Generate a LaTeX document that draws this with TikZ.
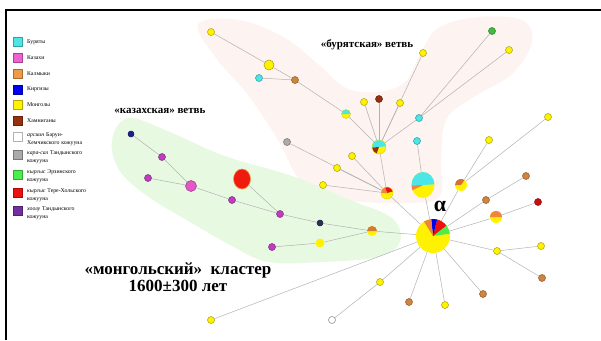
\documentclass[tikz,border=0pt]{standalone}
\usepackage{fontspec}
\setmainfont{Liberation Serif}
\usetikzlibrary{shapes.geometric}

\definecolor{bur}{HTML}{4CE6E8}
\definecolor{kaz}{HTML}{F060D0}
\definecolor{kazn}{HTML}{C03CC0}
\definecolor{kalm}{HTML}{F09A48}
\definecolor{kalmn}{HTML}{D0843C}
\definecolor{kyrg}{HTML}{0000EE}
\definecolor{mong}{HTML}{FFF200}
\definecolor{hamn}{HTML}{96300E}
\definecolor{tgrey}{HTML}{ABABAB}
\definecolor{tgreen}{HTML}{4CEE4C}
\definecolor{tred}{HTML}{EE1010}
\definecolor{tpurp}{HTML}{7030A0}
\definecolor{navy}{HTML}{2A2E5A}
\definecolor{pinkzone}{HTML}{FDF3F0}
\definecolor{greenzone}{HTML}{E8F9E2}
\definecolor{linkgrey}{HTML}{B2B2B2}

\pgfdeclarelayer{zones}
\pgfdeclarelayer{links}
\pgfsetlayers{zones,links,main}

% one coloured sector of a pie node: node, x radius, y radius, from, to, colour
\newcommand{\hapslice}[6]{\fill[#6] (#1.center) -- ++(#4:#2 and #3)
  arc[start angle=#4, end angle=#5, x radius=#2, y radius=#3] -- cycle;}

\tikzset{
  hap/.style={circle, draw=#1!65!black, fill=#1, line width=0.5pt,
    inner sep=0pt, minimum size=7pt},
  pie/.style={circle, fill=mong, draw=mong!85!black, line width=0.4pt,
    inner sep=0pt},
  link/.style={draw=linkgrey, line width=0.5pt},
  legbox/.style={draw=#1!70!black, fill=#1, line width=0.3pt,
    minimum size=9pt, inner sep=0pt},
  legtext/.style={anchor=north west, align=left, inner sep=0pt,
    font=\fontsize{5.8}{8.5}\selectfont, text width=80pt},
  branch/.style={font=\fontsize{11}{13}\selectfont\bfseries},
}

\begin{document}
\begin{tikzpicture}[x=1pt,y=-1pt]
  \useasboundingbox (0,0) rectangle (601,340);
  \draw[line width=1.6pt] (6,340) -- (6,10) -- (601,10);

  % legend
  \foreach \c/\t [count=\i] in {bur/Буряты, kaz/Казахи, kalm/Калмыки,
      kyrg/Киргизы, mong/Монголы, hamn/Хамниганы}{
    \node[legbox=\c] (leg\i) at (17.5,26+15.8*\i) {};
    \node[legtext, anchor=west] (legt\i) at (27,26+15.8*\i) {\t};
  }
  \node[legbox=white] (leg7) at (17.5,137) {};
  \node[legtext] (legt7) at (27,132) {\textit{арсиин} Барун-\\Хемчикского кожууна};
  \node[legbox=tgrey] (leg8) at (17.5,155) {};
  \node[legtext] (legt8) at (27,150) {\textit{кара-сал} Тандынского\\кожууна};
  \node[legbox=tgreen] (leg9) at (17.5,175) {};
  \node[legtext] (legt9) at (27,169) {\textit{кыргыс} Эрзинского\\кожууна};
  \node[legbox=tred] (leg10) at (17.5,193) {};
  \node[legtext] (legt10) at (27,188) {\textit{кыргыс} Тере-Хольского\\кожууна};
  \node[legbox=tpurp] (leg11) at (17.5,211) {};
  \node[legtext] (legt11) at (27,206) {\textit{хоолу} Тандынского\\кожууна};

  % zones
  \begin{pgfonlayer}{zones}
    \fill[pinkzone] plot[smooth cycle, tension=0.6] coordinates {
      (198,24) (240,20) (285,38) (318,64) (346,88) (378,92) (405,82)
      (420,55) (438,28) (478,17) (522,20) (532,42) (512,74) (472,98)
      (446,120) (441,160) (440,196) (412,203) (362,202) (318,198)
      (296,175) (278,140) (248,95) (216,58)};
    \fill[greenzone] plot[smooth cycle, tension=0.6] coordinates {
      (116,128) (132,118) (170,132) (225,156) (292,176) (350,200)
      (392,218) (400,242) (378,257) (322,262) (268,262) (232,246)
      (190,222) (150,198) (122,174) (112,150)};
  \end{pgfonlayer}

  \node[branch] (lbur) at (367,45) {«бурятская» ветвь};
  \node[branch] (lkaz) at (160,111) {«казахская» ветвь};
  \node[align=center, font=\fontsize{17}{17}\selectfont\bfseries] (lmon)
    at (178,277) {«монгольский»\ \ кластер\\1600±300 лет};

  % hub of the mongol cluster
  \node[pie, draw=none, minimum size=34pt] (hub) at (433,236) {};
  \hapslice{hub}{17pt}{17pt}{8}{38}{tgreen}
  \hapslice{hub}{17pt}{17pt}{38}{76}{tred}
  \hapslice{hub}{17pt}{17pt}{76}{96}{kyrg}
  \hapslice{hub}{17pt}{17pt}{96}{122}{kalm!85!red}
  \node[font=\fontsize{22}{22}\selectfont\bfseries] (alpha) at (440,206) {α};

  % buryat branch
  \node[hap=mong] (b1) at (211,32) {};
  \node[hap=mong, minimum size=10pt] (b2) at (269,65) {};
  \node[hap=bur] (b3) at (259,78) {};
  \node[hap=kalmn] (b4) at (295,80) {};
  \node[pie, minimum size=9pt] (b5) at (346,114) {};
  \hapslice{b5}{4.3pt}{4.3pt}{0}{180}{bur}
  \node[hap=mong] (b6) at (364,102) {};
  \node[hap=hamn] (b7) at (379,99) {};
  \node[hap=mong] (b8) at (400,103) {};
  \node[hap=bur] (b9) at (419,118) {};
  \node[hap=tgreen!80!black] (b10) at (492,31) {};
  \node[hap=mong] (b11) at (509,50) {};
  \node[hap=mong] (b12) at (423,53) {};
  \node[pie, minimum size=14pt] (bc) at (379,147) {};
  \hapslice{bc}{6.8pt}{6.8pt}{5}{185}{bur}
  \hapslice{bc}{6.8pt}{6.8pt}{185}{250}{hamn}
  \node[hap=tgrey] (b13) at (287,142) {};
  \node[hap=mong] (b14) at (352,156) {};
  \node[hap=mong] (b15) at (337,168) {};
  \node[hap=mong] (b16) at (323,185) {};
  \node[pie, minimum size=12pt] (bd) at (387,193) {};
  \hapslice{bd}{5.8pt}{5.8pt}{15}{110}{tred}
  \hapslice{bd}{5.8pt}{5.8pt}{110}{180}{kalm!85!red}
  \node[hap=bur] (b17) at (417,141) {};
  \node[ellipse, fill=mong, inner sep=0pt, minimum width=23pt,
    minimum height=26pt] (bbig) at (423,185) {};
  \hapslice{bbig}{11.5pt}{13pt}{3}{182}{bur}
  \hapslice{bbig}{11.5pt}{13pt}{182}{204}{kalm!85!red}

  % kazakh branch
  \node[hap=navy!70!blue, minimum size=6pt] (k1) at (131,134) {};
  \node[hap=kazn] (k2) at (162,157) {};
  \node[hap=kazn] (k3) at (148,178) {};
  \node[hap=kaz!90!violet, minimum size=11pt] (k4) at (191,186) {};
  \node[hap=kazn] (k5) at (232,200) {};
  \node[ellipse, fill=tred!90!orange, draw=kalm, line width=0.6pt,
    inner sep=0pt, minimum width=17pt, minimum height=20pt] (k6) at (242,179) {};
  \node[hap=kazn] (k7) at (280,214) {};
  \node[hap=navy, minimum size=6pt] (k8) at (320,223) {};
  \node[hap=kazn] (k9) at (272,247) {};
  \node[hap=mong, minimum size=9pt, draw=none] (k10) at (320,243) {};
  \node[pie, minimum size=10pt, draw=none] (kc) at (372,231) {};
  \hapslice{kc}{5pt}{5pt}{0}{180}{kalmn!90!red}

  % rays to the right and below
  \node[hap=mong] (r1) at (489,140) {};
  \node[hap=mong] (r2) at (548,117) {};
  \node[pie, minimum size=12pt, draw=none] (rc) at (461,185) {};
  \hapslice{rc}{6pt}{6pt}{55}{180}{kalmn!85!red}
  \node[hap=kalmn] (r3) at (526,176) {};
  \node[hap=kalmn] (r4) at (486,200) {};
  \node[hap=tred!85!black] (r5) at (538,202) {};
  \node[pie, minimum size=12pt, draw=none] (rd) at (496,217) {};
  \hapslice{rd}{6pt}{6pt}{0}{180}{kalm!85!red}
  \node[hap=mong] (r6) at (497,251) {};
  \node[hap=mong] (r7) at (541,246) {};
  \node[hap=kalmn] (r8) at (542,278) {};
  \node[hap=kalmn] (r9) at (483,294) {};
  \node[hap=mong] (r10) at (445,305) {};
  \node[hap=kalmn] (r11) at (409,302) {};
  \node[hap=mong] (r12) at (380,282) {};
  \node[hap=white, draw=gray] (r13) at (332,320) {};
  \node[hap=mong] (r14) at (211,320) {};

  \begin{pgfonlayer}{links}
    \foreach \a/\b in {b1/b2, b2/b4, b3/b4, b4/b5, b5/bc, b6/bc, b7/bc,
        b8/bc, b12/bc, b10/b9, b11/b9, b9/bc, bc/bd, b13/bd, b14/bd,
        b15/bd, b16/bd, bd/hub, b17/bbig, bbig/hub,
        k1/k2, k2/k4, k3/k4, k4/k5, k5/k7, k6/k7, k7/k8, k8/kc, k9/k10,
        k10/kc, kc/hub,
        r1/rc, r2/rc, rc/hub, r3/r4, r4/hub, r5/rd, rd/hub, r7/r6, r8/r6,
        r6/hub, r9/hub, r10/hub, r11/hub, r13/r12, r12/hub, r14/hub}
      \draw[link] (\a) -- (\b);
  \end{pgfonlayer}
\end{tikzpicture}
\end{document}
